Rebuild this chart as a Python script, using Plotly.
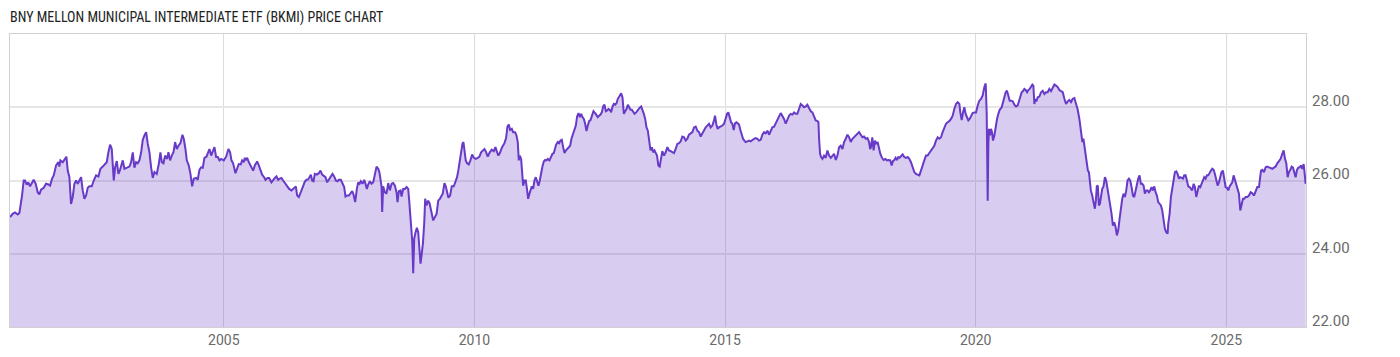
import plotly.graph_objects as go

title_text = "BNY MELLON MUNICIPAL INTERMEDIATE ETF (BKMI) PRICE CHART"

years = [
    2000.736, 2000.789, 2000.835, 2000.889, 2000.922, 2000.955, 2000.975, 2001.008, 2001.035, 2001.068,
    2001.101, 2001.135, 2001.168, 2001.208, 2001.248, 2001.288, 2001.321, 2001.354, 2001.408, 2001.454,
    2001.501, 2001.534, 2001.574, 2001.607, 2001.654, 2001.700, 2001.720, 2001.740, 2001.787, 2001.820,
    2001.860, 2001.887, 2001.920, 2001.953, 2001.986, 2002.020, 2002.053, 2002.086, 2002.119, 2002.153,
    2002.186, 2002.219, 2002.253, 2002.286, 2002.319, 2002.366, 2002.406, 2002.452, 2002.499, 2002.539,
    2002.585, 2002.632, 2002.665, 2002.698, 2002.732, 2002.765, 2002.805, 2002.832, 2002.865, 2002.898,
    2002.931, 2002.985, 2003.018, 2003.071, 2003.118, 2003.151, 2003.184, 2003.217, 2003.251, 2003.284,
    2003.317, 2003.351, 2003.384, 2003.417, 2003.451, 2003.484, 2003.517, 2003.550, 2003.583, 2003.617,
    2003.663, 2003.703, 2003.736, 2003.763, 2003.796, 2003.829, 2003.869, 2003.896, 2003.929, 2003.962,
    2003.996, 2004.029, 2004.062, 2004.096, 2004.135, 2004.175, 2004.202, 2004.235, 2004.262, 2004.302,
    2004.335, 2004.368, 2004.401, 2004.448, 2004.481, 2004.514, 2004.548, 2004.581, 2004.614, 2004.654,
    2004.681, 2004.714, 2004.748, 2004.781, 2004.814, 2004.847, 2004.881, 2004.914, 2004.947, 2005.000,
    2005.047, 2005.093,
    2005.126, 2005.153, 2005.186, 2005.233, 2005.273, 2005.299, 2005.339, 2005.366, 2005.399, 2005.419,
    2005.439, 2005.466, 2005.499, 2005.539, 2005.586, 2005.619, 2005.665, 2005.699, 2005.725, 2005.765,
    2005.805, 2005.832, 2005.872, 2005.905, 2005.951, 2005.985, 2006.018, 2006.051, 2006.084, 2006.118,
    2006.151, 2006.184, 2006.218, 2006.264, 2006.304, 2006.351, 2006.404, 2006.437, 2006.464, 2006.497,
    2006.537, 2006.583, 2006.617, 2006.650, 2006.683, 2006.717, 2006.736, 2006.763, 2006.790, 2006.816,
    2006.856, 2006.896, 2006.929, 2006.963, 2006.996, 2007.029, 2007.062, 2007.096, 2007.136, 2007.169,
    2007.202, 2007.235, 2007.269, 2007.295, 2007.335, 2007.369, 2007.402, 2007.428, 2007.462, 2007.495,
    2007.528, 2007.562, 2007.588, 2007.621, 2007.655, 2007.681, 2007.708, 2007.734, 2007.768, 2007.801,
    2007.828, 2007.854, 2007.881, 2007.914, 2007.947, 2007.981, 2008.014, 2008.047, 2008.080, 2008.100,
    2008.120, 2008.147, 2008.160, 2008.180, 2008.213, 2008.247, 2008.280, 2008.313, 2008.347, 2008.380,
    2008.413, 2008.446, 2008.466, 2008.493, 2008.526, 2008.546, 2008.579, 2008.613, 2008.646, 2008.679,
    2008.699, 2008.719, 2008.739, 2008.759, 2008.779, 2008.799, 2008.826, 2008.852, 2008.879, 2008.899,
    2008.925, 2008.945, 2008.972, 2008.998, 2009.018, 2009.045, 2009.078, 2009.105, 2009.145, 2009.178,
    2009.211, 2009.245, 2009.278, 2009.311,
    2009.368, 2009.402, 2009.428, 2009.455, 2009.481, 2009.515, 2009.548, 2009.588, 2009.621, 2009.654,
    2009.681, 2009.708, 2009.734, 2009.761, 2009.781, 2009.801, 2009.827, 2009.854, 2009.887, 2009.920,
    2009.954, 2009.987, 2010.027, 2010.067, 2010.100, 2010.133, 2010.167, 2010.200, 2010.226, 2010.266,
    2010.306, 2010.346, 2010.386, 2010.419, 2010.453, 2010.479, 2010.513, 2010.552, 2010.599, 2010.632,
    2010.659, 2010.686, 2010.712, 2010.745, 2010.772, 2010.812, 2010.839, 2010.865, 2010.885, 2010.905,
    2010.932, 2010.952, 2010.972, 2010.998, 2011.025, 2011.052, 2011.072, 2011.098, 2011.118, 2011.145,
    2011.171, 2011.198, 2011.224, 2011.251, 2011.278, 2011.304, 2011.331, 2011.357, 2011.384, 2011.411,
    2011.437, 2011.464, 2011.497, 2011.530, 2011.557, 2011.584, 2011.610, 2011.630, 2011.664, 2011.690,
    2011.717, 2011.743, 2011.770, 2011.797, 2011.823, 2011.850, 2011.883, 2011.910, 2011.936, 2011.963,
    2011.996, 2012.023, 2012.049, 2012.076, 2012.103, 2012.129, 2012.156, 2012.183, 2012.209, 2012.236,
    2012.262, 2012.289, 2012.316, 2012.349, 2012.375, 2012.409, 2012.435, 2012.462, 2012.489, 2012.515,
    2012.542, 2012.568, 2012.595, 2012.622, 2012.648, 2012.675, 2012.701, 2012.728, 2012.755, 2012.781,
    2012.808, 2012.835, 2012.861, 2012.894, 2012.928, 2012.954, 2012.981, 2013.008, 2013.034, 2013.061,
    2013.087, 2013.114, 2013.141, 2013.167, 2013.194, 2013.227, 2013.260, 2013.294, 2013.327, 2013.354,
    2013.380, 2013.407, 2013.433, 2013.460, 2013.486, 2013.513, 2013.540, 2013.566, 2013.593,
    2013.616, 2013.643, 2013.669, 2013.696, 2013.722, 2013.749, 2013.782, 2013.816, 2013.849, 2013.882,
    2013.915, 2013.949, 2013.982, 2014.015, 2014.048, 2014.082, 2014.115, 2014.148, 2014.182, 2014.215,
    2014.248, 2014.281, 2014.315, 2014.348, 2014.381, 2014.414, 2014.448, 2014.481, 2014.514, 2014.547,
    2014.581, 2014.614, 2014.647, 2014.680, 2014.714, 2014.747, 2014.780, 2014.800, 2014.827, 2014.854,
    2014.880, 2014.913, 2014.947, 2014.980, 2015.013, 2015.040, 2015.066, 2015.093, 2015.120, 2015.146,
    2015.173, 2015.199, 2015.226, 2015.253, 2015.279, 2015.306, 2015.333, 2015.359, 2015.386, 2015.412,
    2015.446, 2015.479, 2015.512, 2015.545, 2015.579, 2015.612, 2015.645, 2015.678, 2015.712, 2015.745,
    2015.778, 2015.811, 2015.845, 2015.878, 2015.911, 2015.944, 2015.978, 2016.011, 2016.044, 2016.078,
    2016.111, 2016.144, 2016.177, 2016.211, 2016.244, 2016.277, 2016.310, 2016.344, 2016.377, 2016.410,
    2016.443, 2016.477, 2016.510, 2016.543, 2016.576, 2016.610, 2016.643, 2016.676, 2016.710, 2016.743,
    2016.776, 2016.809, 2016.843, 2016.863, 2016.876, 2016.896, 2016.916, 2016.943, 2016.976, 2017.009,
    2017.042, 2017.076, 2017.109, 2017.142, 2017.175, 2017.209, 2017.242, 2017.275, 2017.308, 2017.342,
    2017.375, 2017.408, 2017.442, 2017.475, 2017.508, 2017.541, 2017.575, 2017.608, 2017.641, 2017.674,
    2017.708, 2017.741, 2017.774, 2017.807, 2017.841, 2017.874, 2017.894,
    2017.911, 2017.938, 2017.964, 2017.991, 2018.017, 2018.044, 2018.071, 2018.097, 2018.131, 2018.164,
    2018.197, 2018.230, 2018.264, 2018.297, 2018.323, 2018.350, 2018.377, 2018.403, 2018.430, 2018.457,
    2018.483, 2018.510, 2018.543, 2018.576, 2018.610, 2018.643, 2018.676, 2018.709, 2018.743, 2018.776,
    2018.809, 2018.842, 2018.876, 2018.909, 2018.942, 2018.975, 2019.009, 2019.042, 2019.075, 2019.109,
    2019.142, 2019.175, 2019.208, 2019.242, 2019.275, 2019.308, 2019.341, 2019.375, 2019.408, 2019.441,
    2019.474, 2019.508, 2019.541, 2019.574, 2019.608, 2019.641, 2019.674, 2019.694, 2019.721, 2019.747,
    2019.774, 2019.800, 2019.827, 2019.854, 2019.880, 2019.907, 2019.940, 2019.973, 2020.007, 2020.040,
    2020.073, 2020.107, 2020.140, 2020.173, 2020.200, 2020.220, 2020.240, 2020.253, 2020.266, 2020.286,
    2020.306, 2020.326, 2020.346, 2020.373, 2020.399, 2020.426, 2020.452, 2020.479, 2020.519, 2020.546,
    2020.572, 2020.599, 2020.625, 2020.652, 2020.679, 2020.705, 2020.739, 2020.772, 2020.805, 2020.838,
    2020.865, 2020.892, 2020.918, 2020.945, 2020.971, 2020.998, 2021.025, 2021.051, 2021.078, 2021.104,
    2021.131, 2021.151, 2021.171, 2021.191, 2021.211, 2021.238, 2021.271, 2021.304, 2021.337, 2021.371,
    2021.404, 2021.437, 2021.470, 2021.504, 2021.537, 2021.570, 2021.603, 2021.637, 2021.670, 2021.703,
    2021.737, 2021.770, 2021.803, 2021.836, 2021.870, 2021.903, 2021.936, 2021.969, 2022.003, 2022.036,
    2022.069, 2022.102, 2022.129, 2022.149, 2022.169,
    2022.212, 2022.239, 2022.259, 2022.278, 2022.298, 2022.325, 2022.352, 2022.378, 2022.398, 2022.418,
    2022.438, 2022.458, 2022.478, 2022.498, 2022.525, 2022.551, 2022.578, 2022.604, 2022.631, 2022.658,
    2022.684, 2022.711, 2022.738, 2022.764, 2022.791, 2022.817, 2022.844, 2022.871, 2022.897, 2022.924,
    2022.950, 2022.977, 2023.004, 2023.030, 2023.057, 2023.083, 2023.110, 2023.137, 2023.163, 2023.190,
    2023.217, 2023.243, 2023.270, 2023.296, 2023.323, 2023.350, 2023.376, 2023.403, 2023.429, 2023.456,
    2023.483, 2023.509, 2023.536, 2023.563, 2023.589, 2023.616, 2023.642, 2023.669, 2023.696, 2023.722,
    2023.749, 2023.775, 2023.802, 2023.829, 2023.842, 2023.869, 2023.895, 2023.922, 2023.948, 2023.975,
    2024.002, 2024.028, 2024.055, 2024.081, 2024.108, 2024.135, 2024.161, 2024.188, 2024.214, 2024.241,
    2024.268, 2024.294, 2024.321, 2024.348, 2024.374, 2024.401, 2024.427, 2024.454, 2024.481, 2024.507,
    2024.534, 2024.560, 2024.587, 2024.614, 2024.640, 2024.667, 2024.694, 2024.720, 2024.747, 2024.773,
    2024.800, 2024.827, 2024.853, 2024.880, 2024.906, 2024.933, 2024.960, 2024.986, 2025.013, 2025.040,
    2025.066, 2025.093, 2025.119, 2025.146, 2025.172, 2025.199, 2025.226, 2025.252, 2025.279, 2025.306,
    2025.332, 2025.359, 2025.385, 2025.419, 2025.452, 2025.485, 2025.519, 2025.552, 2025.585, 2025.618,
    2025.652, 2025.678, 2025.692, 2025.718, 2025.751, 2025.785, 2025.818, 2025.851, 2025.884, 2025.918,
    2025.951, 2025.984, 2026.018, 2026.051, 2026.084, 2026.117, 2026.144, 2026.171, 2026.197, 2026.224,
    2026.250, 2026.277, 2026.304, 2026.330, 2026.357, 2026.383, 2026.410, 2026.437, 2026.463, 2026.490,
    2026.516, 2026.543, 2026.570, 2026.583,
]

prices = [
    25.00, 25.09, 25.13, 25.07, 25.11, 25.36, 25.59, 26.00, 26.00, 25.89,
    25.95, 25.84, 25.93, 26.02, 25.91, 25.68, 25.62, 25.75, 25.80, 25.91,
    25.89, 25.86, 26.05, 26.14, 26.41, 26.50, 26.38, 26.55, 26.50, 26.56,
    26.65, 26.27, 26.09, 25.36, 25.55, 25.91, 26.00, 25.91, 25.98, 26.09,
    25.73, 25.50, 25.59, 25.80, 25.84, 25.84, 26.00, 26.14, 26.11, 26.32,
    26.38, 26.44, 26.50, 26.77, 26.98, 26.86, 26.00, 26.36, 26.53, 26.18,
    26.29, 26.55, 26.32, 26.35, 26.38, 26.50, 26.77, 26.35, 26.50, 26.47,
    26.55, 26.77, 27.11, 27.23, 27.32, 27.00, 26.77, 26.36, 26.07, 26.23,
    26.18, 26.45, 26.77, 26.50, 26.47, 26.68, 26.59, 26.77, 26.55, 26.68,
    26.77, 27.05, 26.86, 26.95, 27.02, 27.25, 27.14, 26.86, 26.55, 26.41,
    26.18, 25.84, 26.05, 26.07, 26.02, 26.29, 26.36, 26.35, 26.62, 26.65,
    26.73, 26.86, 26.68, 26.82, 26.91, 26.64, 26.64, 26.55, 26.59, 26.55,
    26.65, 26.86,
    26.77, 26.55, 26.47, 26.20, 26.38, 26.45, 26.44, 26.55, 26.50, 26.62,
    26.55, 26.62, 26.50, 26.38, 26.27, 26.41, 26.52, 26.41, 26.29, 26.16,
    26.09, 26.02, 26.07, 26.07, 25.95, 26.02, 26.07, 26.11, 26.02, 26.05,
    26.07, 26.00, 25.93, 25.84, 25.77, 25.73, 25.80, 25.84, 25.59, 25.55,
    25.68, 25.86, 25.97, 26.02, 26.03, 26.11, 26.16, 26.00, 25.98, 26.18,
    26.16, 26.20, 26.27, 26.16, 26.11, 26.09, 25.95, 26.02, 26.09, 26.18,
    26.11, 26.00, 25.98, 26.02, 26.02, 25.91, 25.82, 25.56, 25.59, 25.59,
    25.64, 25.71, 25.62, 25.41, 25.77, 25.95, 25.91, 25.98, 25.91, 26.02,
    25.91, 25.77, 25.89, 25.98, 25.91, 25.95, 26.16, 26.38, 26.32, 26.25,
    26.09, 25.84, 25.14, 25.84, 25.68, 25.64, 25.93, 25.73, 25.91, 25.93,
    25.86, 25.68, 25.41, 25.71, 25.73, 25.56, 25.77, 25.77, 25.82, 25.77,
    25.45, 25.00, 24.59, 24.36, 23.47, 24.41, 24.59, 24.71, 24.59, 24.27,
    23.73, 23.95, 24.27, 24.82, 25.50, 25.32, 25.45, 25.38, 25.09, 24.91,
    25.00, 25.09, 25.45, 25.50,
    25.64, 25.93, 25.84, 25.64, 25.53, 25.59, 25.84, 25.84, 25.98, 26.09,
    26.29, 26.55, 26.82, 27.00, 27.05, 26.77, 26.55, 26.47, 26.44, 26.55,
    26.71, 26.62, 26.59, 26.62, 26.65, 26.77, 26.82, 26.86, 26.80, 26.65,
    26.77, 26.84, 26.80, 26.91, 26.77, 26.68, 26.77, 26.91, 27.02, 27.16,
    27.47, 27.53, 27.38, 27.41, 27.32, 27.32, 27.23, 27.05, 26.55, 26.68,
    26.59, 26.23, 25.86, 26.00, 26.00, 25.73, 25.50, 25.64, 25.73, 25.84,
    25.77, 26.00, 26.09, 26.00, 25.86, 26.00, 26.23, 26.38, 26.52, 26.56,
    26.55, 26.59, 26.55, 26.64, 26.73, 26.75, 26.86, 26.98, 27.05, 27.02,
    27.09, 27.11, 26.91, 26.75, 26.82, 26.86, 26.91, 26.95, 27.14, 27.25,
    27.36, 27.50, 27.75, 27.84, 27.73, 27.82, 27.73, 27.68, 27.55, 27.35,
    27.50, 27.62, 27.65, 27.77, 27.89, 27.84, 27.77, 27.73, 27.77, 27.80,
    27.86, 28.02, 28.07, 27.89, 27.91, 27.95, 27.93, 27.86, 28.02, 28.09,
    28.07, 28.11, 28.23, 28.32, 28.38, 28.27, 27.82, 27.89, 27.95, 28.07,
    27.98, 27.93, 27.93, 27.89, 27.82, 27.86, 27.93, 27.98, 28.02, 27.93,
    27.82, 27.68, 27.45, 27.36, 27.14, 26.82, 26.91, 26.77, 26.82,
    26.77, 26.68, 26.41, 26.38, 26.59, 26.80, 26.68, 26.77, 26.91, 26.82,
    26.80, 26.77, 26.75, 26.86, 27.00, 27.02, 27.07, 27.20, 27.18, 27.09,
    27.14, 27.25, 27.29, 27.32, 27.45, 27.47, 27.36, 27.32, 27.20, 27.29,
    27.36, 27.45, 27.50, 27.55, 27.45, 27.50, 27.64, 27.77, 27.53, 27.41,
    27.45, 27.47, 27.50, 27.55, 27.68, 27.82, 27.86, 27.75, 27.59, 27.55,
    27.38, 27.56, 27.59, 27.56, 27.53, 27.38, 27.25, 27.14, 27.09, 27.05,
    27.07, 27.09, 27.07, 27.11, 27.14, 27.16, 27.14, 27.09, 27.11, 27.25,
    27.32, 27.29, 27.36, 27.25, 27.38, 27.45, 27.47, 27.55, 27.65, 27.75,
    27.84, 27.77, 27.68, 27.55, 27.65, 27.77, 27.82, 27.80, 27.86, 27.82,
    27.82, 27.95, 28.09, 28.05, 28.00, 28.02, 28.07, 27.98, 27.89, 27.86,
    27.77, 27.64, 27.62, 27.59, 27.14, 26.73, 26.64, 26.59, 26.68, 26.62,
    26.82, 26.68, 26.62, 26.68, 26.73, 26.56, 26.68, 26.91, 26.95, 26.86,
    27.05, 27.14, 27.25, 27.18, 27.05, 27.14, 27.18, 27.23, 27.27, 27.32,
    27.25, 27.18, 27.20, 27.14, 27.16, 27.05, 26.86,
    26.91, 27.18, 26.82, 27.09, 27.00, 27.05, 26.86, 26.73, 26.62, 26.56,
    26.59, 26.55, 26.56, 26.55, 26.41, 26.53, 26.56, 26.62, 26.56, 26.64,
    26.62, 26.65, 26.71, 26.64, 26.62, 26.64, 26.59, 26.50, 26.36, 26.23,
    26.18, 26.16, 26.14, 26.27, 26.44, 26.55, 26.68, 26.68, 26.75, 26.82,
    26.86, 26.95, 27.09, 27.18, 27.14, 27.18, 27.32, 27.44, 27.55, 27.59,
    27.62, 27.68, 27.77, 27.95, 28.09, 28.14, 28.09, 27.86, 27.65, 27.86,
    28.00, 27.82, 27.73, 27.64, 27.68, 27.77, 27.84, 27.86, 27.86, 28.05,
    28.18, 28.23, 28.32, 28.55, 28.65, 27.82, 25.45, 27.00, 27.41, 27.23,
    27.41, 27.32, 27.09, 27.23, 27.50, 27.68, 27.82, 27.93, 28.00, 28.14,
    28.29, 28.41, 28.45, 28.27, 28.18, 28.18, 28.16, 28.07, 28.02, 28.05,
    28.18, 28.35, 28.41, 28.44, 28.50, 28.47, 28.41, 28.47, 28.50, 28.56,
    28.62, 28.59, 28.09, 28.23, 28.16, 28.27, 28.29, 28.41, 28.45, 28.36,
    28.41, 28.41, 28.50, 28.44, 28.55, 28.62, 28.59, 28.55, 28.47, 28.45,
    28.41, 28.23, 28.09, 28.16, 28.20, 28.14, 28.23, 28.25, 28.09, 27.93,
    27.68, 27.35, 27.05, 27.14, 26.95,
    26.64, 26.27, 26.23, 26.00, 25.73, 25.59, 25.41, 25.23, 25.45, 25.86,
    25.84, 25.32, 25.36, 25.59, 25.77, 25.84, 26.09, 26.00, 25.73, 25.45,
    25.32, 25.09, 24.77, 24.86, 24.73, 24.50, 24.64, 24.95, 25.27, 25.50,
    25.64, 25.55, 25.73, 26.00, 26.05, 26.00, 25.82, 25.59, 25.55, 25.73,
    25.91, 26.05, 26.14, 25.91, 25.91, 25.86, 25.64, 25.73, 25.73, 25.68,
    25.73, 25.82, 25.73, 25.84, 25.68, 25.59, 25.41, 25.36, 25.32, 25.18,
    24.86, 24.68, 24.59, 24.55, 24.82, 25.09, 25.55, 25.82, 26.00, 26.23,
    26.25, 26.18, 26.05, 26.09, 26.07, 26.05, 26.14, 26.14, 26.00, 25.84,
    25.82, 25.77, 25.73, 25.91, 25.82, 25.55, 25.68, 25.86, 25.82, 25.91,
    25.95, 26.09, 26.05, 26.14, 26.14, 26.23, 26.27, 26.32, 26.29, 26.18,
    26.00, 25.86, 25.95, 26.14, 26.23, 26.27, 26.00, 25.82, 25.80, 25.73,
    25.84, 25.91, 25.95, 26.14, 26.02, 25.91, 25.77, 25.64, 25.18, 25.36,
    25.50, 25.50, 25.55, 25.55, 25.59, 25.68, 25.65, 25.59, 25.73, 25.82,
    25.82, 26.05, 26.27, 26.29, 26.23, 26.36, 26.38, 26.36, 26.35, 26.32,
    26.35, 26.38, 26.47, 26.55, 26.59, 26.73, 26.82, 26.59, 26.47, 26.09,
    26.23, 26.29, 26.38, 26.35, 26.18, 26.09, 26.29, 26.35, 26.36, 26.41,
    26.32, 26.45, 26.09, 25.91,
]

year_ticks = [2005, 2010, 2015, 2020, 2025]
year_labels = ["2005", "2010", "2015", "2020", "2025"]
price_ticks = [22, 24, 26, 28]
price_labels = ["22.00", "24.00", "26.00", "28.00"]

line_color = "rgb(103,58,200)"
fill_color = "rgba(103,58,200,0.26)"
font_cond = "Roboto Condensed, Liberation Sans Narrow, DejaVu Sans Condensed, Roboto, sans-serif"

fig = go.Figure()
fig.add_trace(go.Scatter(
    x=years, y=prices, mode="lines",
    line=dict(color=line_color, width=2),
    fill="tozeroy", fillcolor=fill_color,
    hoverinfo="skip", showlegend=False,
))

fig.update_layout(
    width=1400, height=357,
    margin=dict(l=10, r=94, t=34, b=30),
    paper_bgcolor="white", plot_bgcolor="white",
    title=dict(text=title_text, xref="container", x=10 / 1400, xanchor="left",
               yref="container", y=1 - 17 / 357, yanchor="middle",
               font=dict(family=font_cond, size=14, color="#222")),
    xaxis=dict(range=[2000.735, 2026.59], tickvals=year_ticks, ticktext=year_labels,
               showgrid=True, gridcolor="#dcdcdc", gridwidth=1,
               showline=True, linecolor="#d0d0d0", linewidth=1, mirror=True,
               ticks="", zeroline=False,
               tickfont=dict(family="Roboto, sans-serif", size=14, color="#6a6a6a")),
    yaxis=dict(range=[22, 30], side="right", tickvals=price_ticks, ticktext=price_labels,
               showgrid=True, gridcolor="#e6e6e6", gridwidth=2,
               showline=True, linecolor="#d0d0d0", linewidth=1, mirror=True,
               ticks="", zeroline=False, ticklabelposition="outside top",
               ticklabelstandoff=2, ticklabelshift=4,
               tickfont=dict(family="Roboto, sans-serif", size=15, color="#6a6a6a")),
)

fig.write_html("out.html")
